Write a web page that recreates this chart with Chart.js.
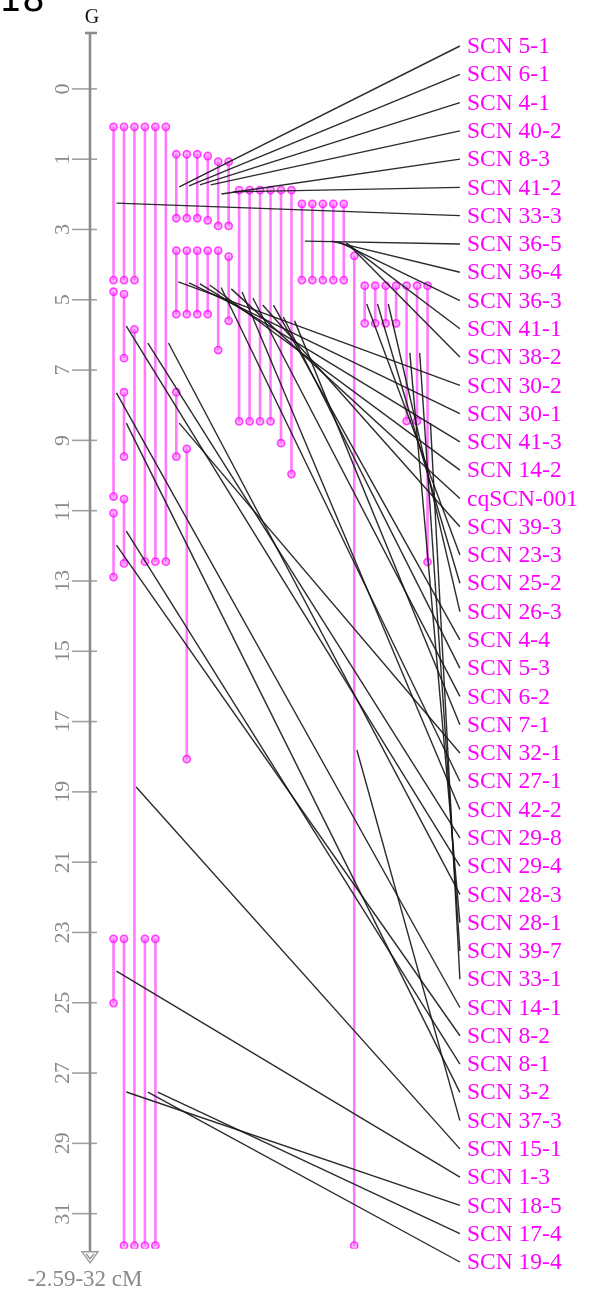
<!DOCTYPE html>
<html><head><meta charset="utf-8">
<script src="https://cdn.jsdelivr.net/npm/chart.js@4.4.1/dist/chart.umd.min.js"></script>
<style>html,body{margin:0;padding:0;background:#fff;}canvas{display:block;}</style>
</head><body>
<canvas id="c" width="596" height="1293"></canvas>
<script>
// ---------- DATA ----------
const axisName = "G";
const axisRangeText = "-2.59-32 cM";
const cornerText = "18";
const axisMin = -2.59, axisMax = 32;
const tickValues = [-1,1,3,5,7,9,11,13,15,17,19,21,23,25,27,29,31];
const tickLabels = ["0","1","3","5","7","9","11","13","15","17","19","21","23","25","27","29","31"];

// QTL intervals: column index, start cM, end cM
const barCol   = [0,1,2,3,4,5,6,7,8,9,10,11,12,13,14,15,16,17,18,19,20,21,22,23,6,7,8,9,10,11,24,25,26,27,28,29,30,0,1,2,1,6,7,0,1,0,1,3,4];
const barStart = [0.08,0.08,0.08,0.08,0.08,0.08,0.86,0.86,0.86,0.91,1.07,1.07,1.88,1.88,1.88,1.88,1.88,1.88,2.27,2.27,2.27,2.27,2.27,3.75,3.60,3.60,3.60,3.60,3.60,3.77,4.60,4.60,4.60,4.60,4.60,4.60,4.60,4.77,4.84,5.84,7.63,7.63,9.24,11.07,10.67,23.18,23.18,23.18,23.18];
const barEnd   = [4.44,4.44,4.44,12.45,12.45,12.45,2.68,2.68,2.68,2.74,2.90,2.90,8.46,8.46,8.46,8.46,9.08,9.96,4.44,4.44,4.44,4.44,4.44,31.91,5.41,5.41,5.41,5.41,6.43,5.60,5.67,5.67,5.67,5.67,8.45,8.45,12.46,10.60,6.66,31.91,9.46,9.46,18.07,12.89,12.50,25.01,31.91,31.91,31.91];

// QTL labels and the peak each connector starts from
const qtlLabels = ["SCN 5-1","SCN 6-1","SCN 4-1","SCN 40-2","SCN 8-3","SCN 41-2","SCN 33-3","SCN 36-5","SCN 36-4","SCN 36-3","SCN 41-1","SCN 38-2","SCN 30-2","SCN 30-1","SCN 41-3","SCN 14-2","cqSCN-001","SCN 39-3","SCN 23-3","SCN 25-2","SCN 26-3","SCN 4-4","SCN 5-3","SCN 6-2","SCN 7-1","SCN 32-1","SCN 27-1","SCN 42-2","SCN 29-8","SCN 29-4","SCN 28-3","SCN 28-1","SCN 39-7","SCN 33-1","SCN 14-1","SCN 8-2","SCN 8-1","SCN 3-2","SCN 37-3","SCN 15-1","SCN 1-3","SCN 18-5","SCN 17-4","SCN 19-4"];
const peakCol = [6.28,7.22,8.25,9.28,10.31,11.44,0.28,18.28,20.81,21.56,22.22,22.5,6.19,7.22,8.25,9.19,11.25,14.25,24.19,25.22,26.25,15.28,16.22,13.31,17.3,6.28,10.28,12.28,3.28,1.22,5.25,28.31,29.25,30.28,0.28,0.28,1.22,1.22,23.25,2.16,0.28,1.22,4.22,3.28];
const peakCM  = [1.79,1.76,1.73,1.73,1.99,1.93,2.25,3.33,3.33,3.36,3.38,3.44,4.49,4.52,4.55,4.58,4.69,5.15,5.12,5.12,5.12,5.15,5.49,4.95,5.60,8.51,4.65,4.78,6.23,5.75,6.23,6.51,6.51,8.51,7.65,11.98,11.58,8.51,17.81,18.86,24.10,27.54,27.54,27.54];

// ---------- LAYOUT ----------
const W = 596, H = 1293;
const areaTop = 33, areaBottom = 1248.8;
const firstColPx = 110, colPx = 10.667;
const axisX = 90;
const labelTopPx = 46, labelBottomPx = 1262, labelTextX = 467, labelLineX = 463;
const MAG = "#ff00ff";

const xMin = -firstColPx / colPx, xMax = (W - firstColPx) / colPx;
const pxToVal = px => axisMin + (px - areaTop) / (areaBottom - areaTop) * (axisMax - axisMin);
const labelLineCol = (labelLineX - firstColPx) / colPx;
const labelVal = i => pxToVal(labelTopPx + i * (labelBottomPx - labelTopPx) / (qtlLabels.length - 1));

const datasets = [];
barCol.forEach((c, i) => {
  datasets.push({
    data: [{x: c, y: barStart[i]}, {x: c, y: barEnd[i]}],
    showLine: true,
    borderColor: "rgba(255,40,255,0.62)",
    borderWidth: 2.6,
    pointRadius: 3.6,
    pointBorderWidth: 1.6,
    pointBorderColor: "rgba(255,0,255,0.7)",
    pointBackgroundColor: "rgba(255,110,255,0.55)",
    order: 2
  });
});
qtlLabels.forEach((name, i) => {
  datasets.push({
    data: [{x: peakCol[i], y: peakCM[i]}, {x: labelLineCol, y: labelVal(i)}],
    showLine: true,
    borderColor: "rgba(20,20,20,0.9)",
    borderWidth: 1.4,
    pointRadius: 0,
    clip: false,
    order: 1
  });
});

const decor = {
  id: "decor",
  beforeDatasetsDraw(chart) {
    const ctx = chart.ctx, ys = chart.scales.y;
    const top = ys.getPixelForValue(axisMin), bot = ys.getPixelForValue(axisMax);
    ctx.save();
    ctx.strokeStyle = "#a0a0a0"; ctx.lineWidth = 1.6;
    tickValues.forEach(v => {
      const y = ys.getPixelForValue(v);
      ctx.beginPath(); ctx.moveTo(axisX - 18, y); ctx.lineTo(axisX + 7, y); ctx.stroke();
    });
    ctx.strokeStyle = "#8c8c8c"; ctx.lineWidth = 2.6;
    ctx.beginPath(); ctx.moveTo(axisX, top); ctx.lineTo(axisX, bot + 3); ctx.stroke();
    ctx.beginPath(); ctx.moveTo(axisX - 5, top); ctx.lineTo(axisX + 7, top); ctx.stroke();
    ctx.lineWidth = 1.4; ctx.strokeStyle = "#999";
    ctx.beginPath(); ctx.moveTo(axisX - 8, bot + 3); ctx.lineTo(axisX + 8, bot + 3); ctx.lineTo(axisX, bot + 14); ctx.closePath(); ctx.stroke();
    ctx.beginPath(); ctx.moveTo(axisX - 4, bot + 5); ctx.lineTo(axisX, bot + 10); ctx.lineTo(axisX + 4, bot + 5); ctx.stroke();
    ctx.fillStyle = "#8a8a8a"; ctx.font = "22px 'Liberation Serif'";
    ctx.textAlign = "center"; ctx.textBaseline = "middle";
    tickValues.forEach((v, i) => {
      const y = ys.getPixelForValue(v);
      ctx.save(); ctx.translate(62, y); ctx.rotate(-Math.PI / 2);
      ctx.fillText(tickLabels[i], 0, 1); ctx.restore();
    });
    ctx.fillStyle = "#111"; ctx.font = "20px 'Liberation Serif'";
    ctx.textBaseline = "alphabetic";
    ctx.fillText(axisName, axisX + 2, 23);
    ctx.fillStyle = "#8a8a8a"; ctx.font = "23px 'Liberation Serif'";
    ctx.fillText(axisRangeText, 85, 1286);
    ctx.fillStyle = "#000"; ctx.font = "36px 'DejaVu Sans'"; ctx.textAlign = "left";
    ctx.fillText(cornerText, -1, 11);
    ctx.restore();
  },
  afterDraw(chart) {
    const ctx = chart.ctx, ys = chart.scales.y;
    ctx.save();
    ctx.fillStyle = MAG; ctx.font = "23.5px 'Liberation Serif'";
    ctx.textAlign = "left"; ctx.textBaseline = "middle";
    qtlLabels.forEach((name, i) => {
      ctx.fillText(name, labelTextX, ys.getPixelForValue(labelVal(i)) + 1);
    });
    ctx.restore();
  }
};

new Chart(document.getElementById("c"), {
  type: "scatter",
  data: { datasets },
  options: {
    responsive: false, animation: false, devicePixelRatio: 1,
    layout: { padding: { top: areaTop, bottom: H - areaBottom, left: 0, right: 0 } },
    plugins: { legend: { display: false }, tooltip: { enabled: false } },
    scales: {
      x: { type: "linear", display: false, min: xMin, max: xMax },
      y: { type: "linear", display: false, min: axisMin, max: axisMax, reverse: true }
    }
  },
  plugins: [decor]
});
</script>
</body></html>
